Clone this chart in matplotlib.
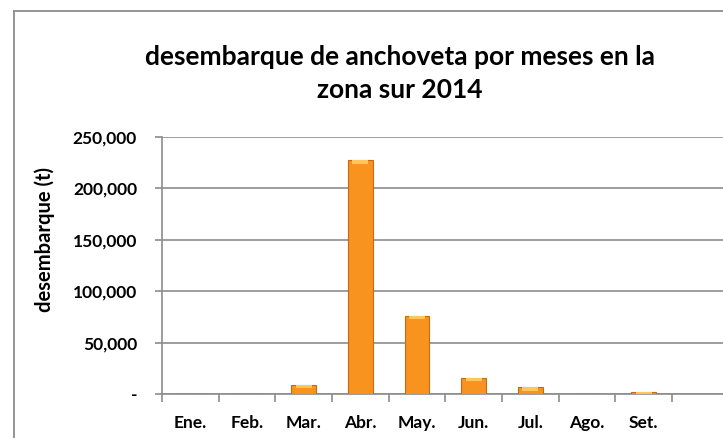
import matplotlib
matplotlib.use('Agg')
import matplotlib.pyplot as plt
from matplotlib.lines import Line2D
from matplotlib.ticker import FuncFormatter
import numpy as np

# Data
meses = ['Ene.', 'Feb.', 'Mar.', 'Abr.', 'May.', 'Jun.', 'Jul.', 'Ago.', 'Set.']
desembarque = [0, 0, 9000, 227500, 76000, 16000, 6500, 0, 1500]
yticks = [0, 50000, 100000, 150000, 200000, 250000]

plt.rcParams['font.family'] = ['Lato', 'DejaVu Sans']

W, H = 723, 438
fig = plt.figure(figsize=(W / 100, H / 100), dpi=100)

# outer chart frame (cropped on right/bottom)
fx, fy = 14 / W, 1 - 11 / H
fig.add_artist(Line2D([fx, fx], [0, fy], transform=fig.transFigure, color='#8c8c8c', lw=1.3))
fig.add_artist(Line2D([fx, 1.0], [fy, fy], transform=fig.transFigure, color='#8c8c8c', lw=1.3))

ax = fig.add_axes([162 / W, 1 - 394 / H, 1 - 162 / W, (394 - 137) / H])
x = np.arange(len(meses))
ax.bar(x, desembarque, width=0.44, color='#F7931E', edgecolor='#C86A12', linewidth=0.8, zorder=3)
# lighter highlight near the top of each bar
hl = [min(v, 3500) for v in desembarque]
ax.bar(x, hl, bottom=[max(v - 4500, 0) + (1000 if v > 4500 else 0) for v in desembarque],
       width=0.28, color='#FFC65A', linewidth=0, zorder=4)

ax.set_xlim(-0.5, 9.4)
ax.set_ylim(0, 250000)
ax.set_yticks(yticks)
ax.yaxis.set_major_formatter(FuncFormatter(lambda v, p: '-' if v == 0 else f'{int(v):,}'))
ax.set_xticks(x)
ax.set_xticklabels(meses)
ax.set_xticks(np.arange(-0.5, 9, 1), minor=True)
ax.tick_params(axis='x', which='major', length=0, pad=15)
ax.tick_params(axis='x', which='minor', length=6, color='#8c8c8c', width=1.2)
ax.tick_params(axis='y', length=5, color='#8c8c8c', width=1.2, pad=13)
for lab in ax.get_xticklabels() + ax.get_yticklabels():
    lab.set_fontweight('bold')
    lab.set_fontsize(12.5)

ax.grid(axis='y', color='#8c8c8c', lw=1.2, zorder=0)
for s in ['top', 'right']:
    ax.spines[s].set_visible(False)
for s in ['left', 'bottom']:
    ax.spines[s].set_color('#8c8c8c')
    ax.spines[s].set_linewidth(1.2)

ax.set_ylabel('desembarque (t)', fontsize=14.5, fontweight='bold')
ax.yaxis.set_label_coords(-0.19, 0.6)

fig.text(400 / W, 1 - 57 / H, 'desembarque de anchoveta por meses en la', ha='center', va='center',
         fontsize=19, fontweight='bold')
fig.text(400 / W, 1 - 90 / H, 'zona sur 2014', ha='center', va='center', fontsize=19, fontweight='bold')

fig.savefig('out.png', dpi=100)
